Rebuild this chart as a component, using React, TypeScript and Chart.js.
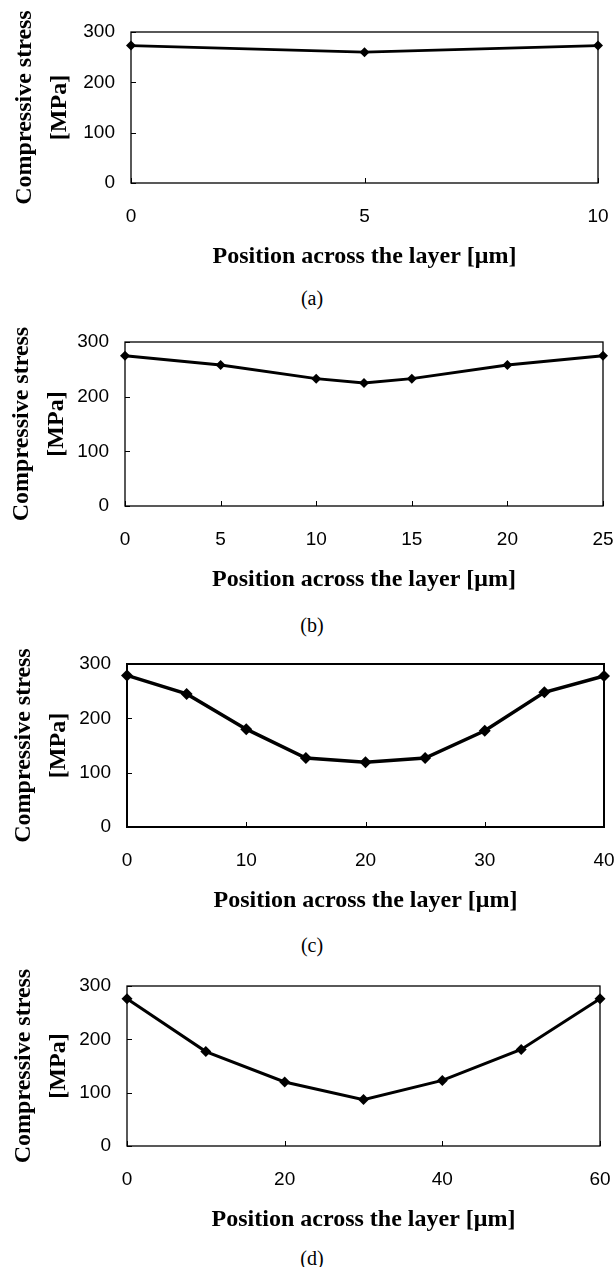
import React, { useEffect, useRef } from "react";
import { Chart, registerables } from "chart.js";

Chart.register(...registerables);

// ---- data ----
const yTickValues = [0, 100, 200, 300];

const positionsA = [0, 5, 10];
const stressA = [273, 260, 273];
const xTicksA = [0, 5, 10];

const positionsB = [0, 5, 10, 12.5, 15, 20, 25];
const stressB = [275, 258, 233, 225, 233, 258, 275];
const xTicksB = [0, 5, 10, 15, 20, 25];

const positionsC = [0, 5, 10, 15, 20, 25, 30, 35, 40];
const stressC = [279, 245, 180, 127, 119, 127, 177, 248, 278];
const xTicksC = [0, 10, 20, 30, 40];

const positionsD = [0, 10, 20, 30, 40, 50, 60];
const stressD = [276, 177, 120, 87, 123, 181, 276];
const xTicksD = [0, 20, 40, 60];

const captions = ["(a)", "(b)", "(c)", "(d)"];
const yTitle = ["Compressive stress", "[MPa]"];
const xTitle = "Position across the layer [\u03bcm]";

// ---- layout (page pixels) ----
const TOP_PAD = 32;
const X_AXIS_H = 95;
const PAGE_W = 616;

type Panel = {
  pos: number[];
  stress: number[];
  xTicks: number[];
  caption: string;
  left: number;
  right: number;
  top: number;
  bottom: number;
  lw: number;
  r: number;
  frame: number;
  capOff: number;
  titleShift: number;
};

const panels: Panel[] = [
  { pos: positionsA, stress: stressA, xTicks: xTicksA, caption: captions[0], left: 131, right: 598, top: 32, bottom: 183, lw: 2.8, r: 5, frame: 1.3, capOff: 115, titleShift: 0 },
  { pos: positionsB, stress: stressB, xTicks: xTicksB, caption: captions[1], left: 125, right: 603, top: 342, bottom: 506, lw: 3, r: 5, frame: 1.3, capOff: 119, titleShift: -3 },
  { pos: positionsC, stress: stressC, xTicks: xTicksC, caption: captions[2], left: 127, right: 604, top: 664, bottom: 827, lw: 3.5, r: 6, frame: 2, capOff: 118, titleShift: -1 },
  { pos: positionsD, stress: stressD, xTicks: xTicksD, caption: captions[3], left: 127, right: 600, top: 986, bottom: 1146, lw: 3, r: 5.5, frame: 1.3, capOff: 112, titleShift: -1 },
];

const framePlugin = {
  id: "frame",
  beforeDatasetsDraw(chart: any, _args: any, opts: any) {
    const { ctx, chartArea } = chart;
    const { left, right, top, bottom } = chartArea;
    ctx.save();
    ctx.strokeStyle = "#000";
    ctx.lineWidth = opts.width || 1.3;
    ctx.strokeRect(left, top, right - left, bottom - top);
    ctx.lineWidth = 1;
    ctx.beginPath();
    const xs = chart.scales.x;
    const ys = chart.scales.y;
    xs.ticks.forEach((t: any) => {
      const px = Math.round(xs.getPixelForValue(t.value)) + 0.5;
      ctx.moveTo(px, bottom);
      ctx.lineTo(px, bottom - 5);
    });
    ys.ticks.forEach((t: any) => {
      const py = Math.round(ys.getPixelForValue(t.value)) + 0.5;
      ctx.moveTo(left, py);
      ctx.lineTo(left + 5, py);
    });
    ctx.stroke();
    ctx.restore();
  },
};

function PanelChart({ p }: { p: Panel }) {
  const ref = useRef<HTMLCanvasElement | null>(null);
  const plotH = p.bottom - p.top;
  const canvasH = TOP_PAD + plotH + X_AXIS_H;
  const xMax = p.xTicks[p.xTicks.length - 1];

  useEffect(() => {
    if (!ref.current) return;
    const chart = new Chart(ref.current, {
      type: "line",
      data: {
        datasets: [
          {
            data: p.pos.map((x, i) => ({ x, y: p.stress[i] })),
            borderColor: "#000",
            backgroundColor: "#000",
            borderWidth: p.lw,
            pointStyle: "rectRot",
            pointRadius: p.r,
            pointBorderWidth: 0,
            pointBackgroundColor: "#000",
            tension: 0,
            clip: false as any,
          },
        ],
      },
      options: {
        responsive: false,
        animation: false,
        devicePixelRatio: 1,
        layout: { padding: { left: 0, right: PAGE_W - p.right, top: TOP_PAD, bottom: 0 } },
        plugins: {
          legend: { display: false },
          tooltip: { enabled: false },
          frame: { width: p.frame },
        } as any,
        scales: {
          x: {
            type: "linear",
            min: 0,
            max: xMax,
            grid: { display: false, drawTicks: false },
            border: { display: false },
            afterBuildTicks: (s: any) => {
              s.ticks = p.xTicks.map((v) => ({ value: v }));
            },
            afterFit: (s: any) => {
              s.height = X_AXIS_H;
              s.paddingLeft = 0;
              s.paddingRight = 0;
            },
            ticks: {
              color: "#000",
              padding: 22,
              maxRotation: 0,
              autoSkip: false,
              font: { family: "'Liberation Sans', Arial, sans-serif", size: 19 },
            },
            title: {
              display: true,
              text: xTitle,
              color: "#000",
              padding: { top: 0, bottom: 6.6 },
              font: { family: "'Liberation Serif', 'Times New Roman', serif", size: 24, weight: "bold", lineHeight: 1.2 },
            },
          },
          y: {
            type: "linear",
            min: 0,
            max: 300,
            grid: { display: false, drawTicks: false },
            border: { display: false },
            afterBuildTicks: (s: any) => {
              s.ticks = yTickValues.map((v) => ({ value: v }));
            },
            afterFit: (s: any) => {
              s.width = p.left;
              s.paddingTop = 0;
              s.paddingBottom = 0;
            },
            ticks: {
              color: "#000",
              padding: 16,
              autoSkip: false,
              font: { family: "'Liberation Sans', Arial, sans-serif", size: 19 },
            },
            title: {
              display: true,
              text: yTitle,
              color: "#000",
              padding: { top: 7.5 + p.titleShift, bottom: 0 },
              font: { family: "'Liberation Serif', 'Times New Roman', serif", size: 24, weight: "bold", lineHeight: 35 / 24 },
            },
          },
        },
      },
      plugins: [framePlugin],
    } as any);
    return () => chart.destroy();
  }, [p]);

  return (
    <>
      <canvas
        ref={ref}
        width={PAGE_W}
        height={canvasH}
        style={{ position: "absolute", left: 0, top: p.top - TOP_PAD, width: PAGE_W, height: canvasH }}
      />
      <div
        style={{
          position: "absolute",
          left: 0,
          width: 624,
          top: p.bottom + p.capOff - 12,
          height: 24,
          lineHeight: "24px",
          textAlign: "center",
          fontFamily: "'Liberation Serif', 'Times New Roman', serif",
          fontSize: 20,
          color: "#000",
        }}
      >
        {p.caption}
      </div>
    </>
  );
}

export default function App() {
  return (
    <div style={{ position: "absolute", left: 0, top: 0, width: PAGE_W, height: 1267, background: "#fff", overflow: "hidden" }}>
      {panels.map((p, i) => (
        <PanelChart key={i} p={p} />
      ))}
    </div>
  );
}
